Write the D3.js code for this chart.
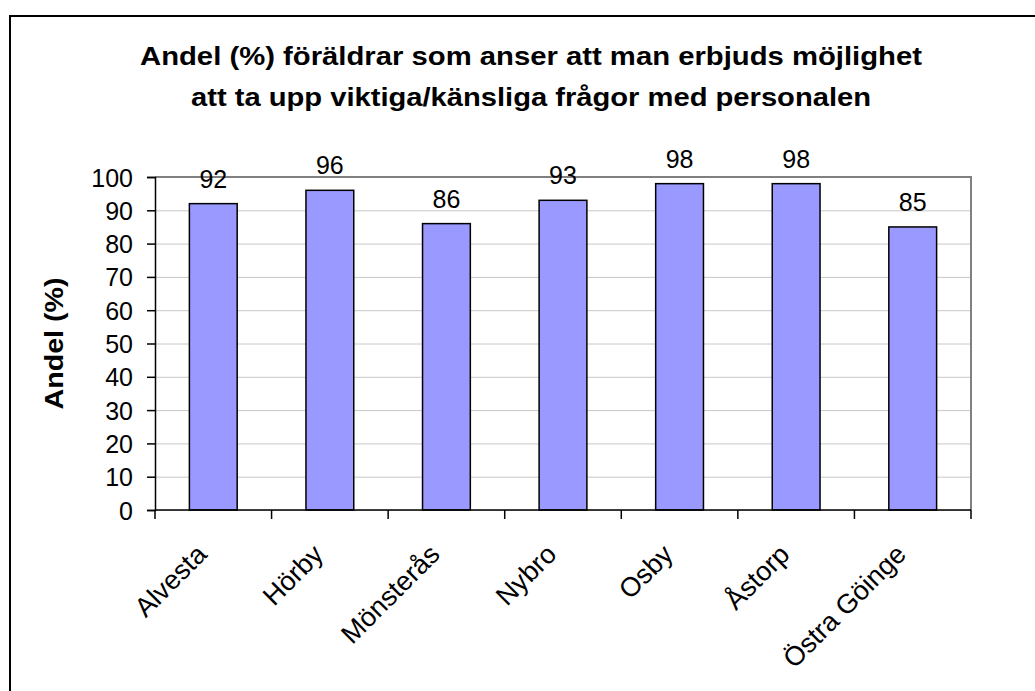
<!DOCTYPE html>
<html>
<head>
<meta charset="utf-8">
<style>
  body { margin: 0; background: #fff; }
  svg { display: block; font-family: "Liberation Sans", Arial, sans-serif; }
  .grid line { stroke: #c8c8c8; stroke-width: 1px; }
  .grid path { display: none; }
  .axis path, .axis line { stroke: #000; stroke-width: 1.5px; }
  .axis text { font-size: 25px; fill: #000; }
  .bar { fill: #9999ff; stroke: #000; stroke-width: 1.5px; }
</style>
</head>
<body>
<script src="https://d3js.org/d3.v7.min.js"></script>
<script>

var categories = ["Alvesta", "Hörby", "Mönsterås", "Nybro", "Osby", "Åstorp", "Östra Göinge"];
var values = [92, 96, 86, 93, 98, 98, 85];
var yTicks = [0, 10, 20, 30, 40, 50, 60, 70, 80, 90, 100];
var titleLines = ["Andel (%) föräldrar som anser att man erbjuds möjlighet",
                  "att ta upp viktiga/känsliga frågor med personalen"];
var yTitle = "Andel (%)";

var W = 1035, H = 691;
var margin = {top: 177, right: 64, bottom: 181, left: 155},
    width = W - margin.left - margin.right,
    height = H - margin.top - margin.bottom;

var svg = d3.select("body").append("svg")
    .attr("width", W)
    .attr("height", H);

// outer frame (right and bottom run off the picture)
svg.append("rect")
    .attr("x", 10).attr("y", 16)
    .attr("width", 1100).attr("height", 800)
    .attr("fill", "none").attr("stroke", "#000").attr("stroke-width", 2);

// title, stretched a bit like the original
var titleWidths = [782, 680];
svg.append("g").selectAll("text")
    .data(titleLines)
  .enter().append("text")
    .attr("x", 531)
    .attr("y", function(d, i) { return 65 + i * 41; })
    .attr("text-anchor", "middle")
    .attr("textLength", function(d, i) { return titleWidths[i]; })
    .attr("lengthAdjust", "spacingAndGlyphs")
    .style("font-size", "26px")
    .style("font-weight", "bold")
    .text(function(d) { return d; });

var g = svg.append("g")
    .attr("transform", "translate(" + margin.left + "," + margin.top + ")");

var x = d3.scaleBand()
    .domain(categories)
    .range([0, width]);

var y = d3.scaleLinear()
    .domain([0, 100])
    .range([height, 0]);

// gridlines
g.append("g")
    .attr("class", "grid")
    .call(d3.axisLeft(y).tickValues(yTicks).tickSize(-width).tickFormat(""));

// plot area top/right border
g.append("path")
    .attr("d", "M0," + y(100) + "H" + width + "V" + y(0))
    .attr("fill", "none").attr("stroke", "#808080").attr("stroke-width", 2);

// bars
var barW = x.bandwidth() * 0.41;
g.selectAll(".bar")
    .data(values)
  .enter().append("rect")
    .attr("class", "bar")
    .attr("x", function(d, i) { return x(categories[i]) + (x.bandwidth() - barW) / 2; })
    .attr("y", function(d) { return y(d); })
    .attr("width", barW)
    .attr("height", function(d) { return height - y(d); });

// value labels
g.selectAll(".val")
    .data(values)
  .enter().append("text")
    .attr("class", "val")
    .attr("x", function(d, i) { return x(categories[i]) + x.bandwidth() / 2; })
    .attr("y", function(d) { return y(d) - 16; })
    .attr("text-anchor", "middle")
    .style("font-size", "25px")
    .text(function(d) { return d; });

// y axis
g.append("g")
    .attr("class", "axis")
    .call(d3.axisLeft(y).tickValues(yTicks).tickSize(8).tickPadding(14))
    .selectAll("text").attr("dy", "0.36em");

// x axis: ticks on category boundaries
var xAxis = g.append("g")
    .attr("class", "axis")
    .attr("transform", "translate(0," + height + ")");
xAxis.append("path").attr("d", "M0,0H" + width);
xAxis.selectAll("line")
    .data(categories.map(function(c) { return x(c); }).concat([width]))
  .enter().append("line")
    .attr("x1", function(d) { return d; }).attr("x2", function(d) { return d; })
    .attr("y1", 0).attr("y2", 9);
xAxis.selectAll("text")
    .data(categories)
  .enter().append("text")
    .attr("text-anchor", "end")
    .style("font-size", "27px")
    .attr("transform", function(d) {
      return "translate(" + (x(d) + x.bandwidth() / 2 - 5) + ",46) rotate(-45)";
    })
    .text(function(d) { return d; });

// y axis title
svg.append("text")
    .attr("transform", "translate(63," + (margin.top + height / 2) + ") rotate(-90)")
    .attr("text-anchor", "middle")
    .attr("textLength", 132)
    .attr("lengthAdjust", "spacingAndGlyphs")
    .style("font-size", "25px")
    .style("font-weight", "bold")
    .text(yTitle);

</script>
</body>
</html>
